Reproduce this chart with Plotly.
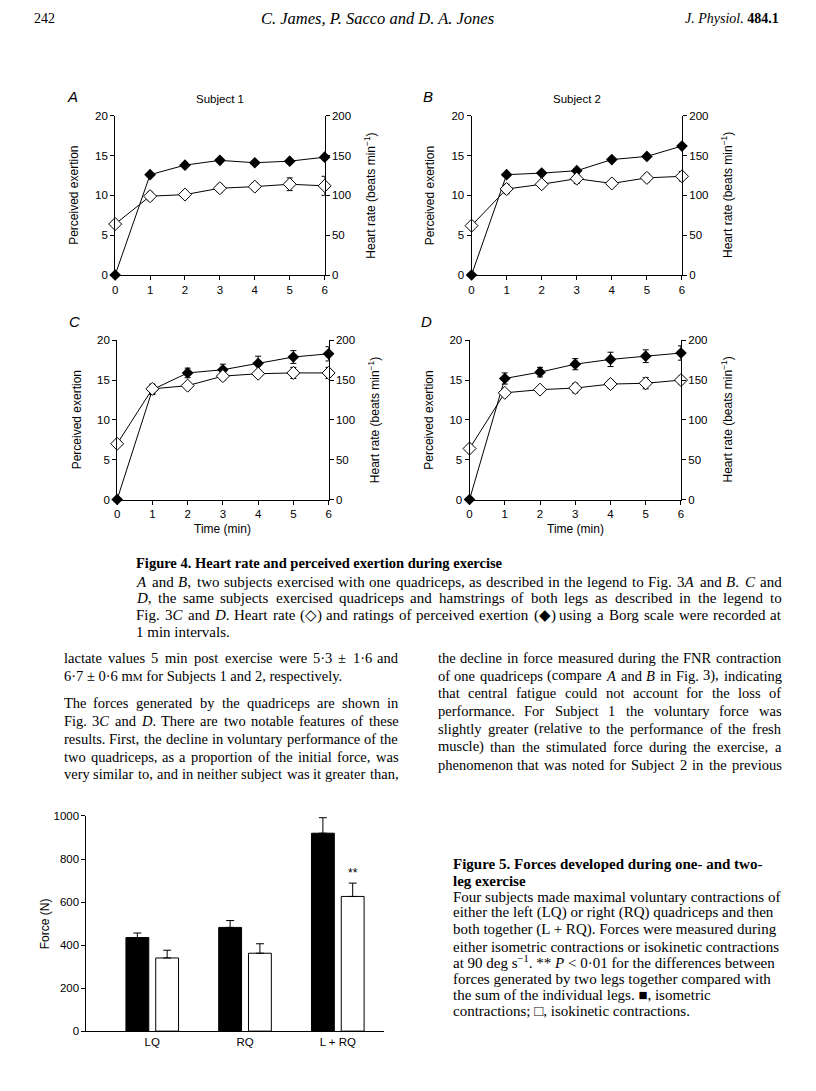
import re
import plotly.graph_objects as go

W, H = 816, 1091

# ---------------- data ----------------
minutes = [0, 1, 2, 3, 4, 5, 6]
x_ticks = [0, 1, 2, 3, 4, 5, 6]
rpe_ticks = [0, 5, 10, 15, 20]
hr_ticks = [0, 50, 100, 150, 200]

# Panel A (Subject 1, one quadriceps)
A_rpe = [0, 12.6, 13.8, 14.4, 14.1, 14.3, 14.8]
A_rpe_err = [0, 0, 0, 0, 0, 0, 0]
A_hr = [64, 99, 101, 109, 111, 114, 112]
A_hr_err = [0, 5, 2, 5, 5, 8, 12]
# Panel B (Subject 2, one quadriceps)
B_rpe = [0, 12.6, 12.8, 13.1, 14.5, 14.9, 16.2]
B_rpe_err = [0, 0, 0, 0, 0, 0, 0]
B_hr = [62, 108, 114, 121, 115, 122, 124]
B_hr_err = [0, 6, 2, 6, 2, 5, 6]
# Panel C (Subject 1, both legs)
C_rpe = [0, 13.8, 15.9, 16.3, 17.1, 17.9, 18.3]
C_rpe_err = [0, 0.6, 0.6, 0.7, 0.9, 0.8, 0.9]
C_hr = [70, 139, 143, 155, 158, 159, 159]
C_hr_err = [0, 6, 2, 5, 3, 7, 7]
# Panel D (Subject 2, both legs)
D_rpe = [0, 15.2, 16.0, 17.0, 17.6, 18.0, 18.4]
D_rpe_err = [0, 0.7, 0.6, 0.7, 0.9, 0.8, 0.9]
D_hr = [64, 134, 138, 140, 145, 146, 150]
D_hr_err = [0, 3, 2, 6, 5, 7, 5]

# Figure 5
bar_cats = ["LQ", "RQ", "L + RQ"]
bar_pos = [0, 1, 2]
isometric = [435, 482, 920]
isometric_err = [21, 32, 72]
isokinetic = [340, 362, 626]
isokinetic_err = [36, 44, 62]
force_ticks = [0, 200, 400, 600, 800, 1000]

# ---------------- helpers ----------------
def px_x(x):
    return x / W

def px_y(y):
    return 1 - y / H

SANS = "Liberation Sans"
SERIF = "Liberation Serif"

fig = go.Figure()
layout = {}
annotations = []

def ann(x, y, text, size=14, family=SERIF, xanchor="left", yanchor="middle", angle=0, color="black"):
    annotations.append(dict(
        x=px_x(x), y=px_y(y), xref="paper", yref="paper", text=text, showarrow=False,
        xanchor=xanchor, yanchor=yanchor, textangle=angle, borderpad=0,
        font=dict(family=family, size=size, color=color)))

# Times / Liberation Serif advance widths (per 1000 em)
TW = {' ': 250, '.': 250, ',': 250, ';': 278, ':': 278, '(': 333, ')': 333, '-': 333,
      '·': 250, '±': 564, '+': 564, '<': 564, '*': 500, '◇': 700, '◆': 700, '■': 600, '□': 600,
      'a': 444, 'b': 500, 'c': 444, 'd': 500, 'e': 444, 'f': 333, 'g': 500, 'h': 500, 'i': 278,
      'j': 278, 'k': 500, 'l': 278, 'm': 778, 'n': 500, 'o': 500, 'p': 500, 'q': 500, 'r': 333,
      's': 389, 't': 278, 'u': 500, 'v': 500, 'w': 722, 'x': 500, 'y': 500, 'z': 444,
      'A': 722, 'B': 667, 'C': 667, 'D': 722, 'E': 611, 'F': 556, 'G': 722, 'H': 722, 'I': 333,
      'J': 389, 'K': 722, 'L': 611, 'M': 889, 'N': 722, 'O': 722, 'P': 556, 'Q': 722, 'R': 667,
      'S': 556, 'T': 611, 'U': 722, 'V': 722, 'W': 944, 'X': 722, 'Y': 722, 'Z': 611}

def word_width(word, size):
    plain = re.sub(r"<[^>]+>", "", word)
    return sum(TW.get(ch, 500) for ch in plain) * size / 1000.0

def justified(x0, x1, y, text, size):
    words = text.split(" ")
    widths = [word_width(w, size) for w in words]
    gap = (x1 - x0 - sum(widths)) / max(len(words) - 1, 1)
    x = x0
    for w, ww in zip(words, widths):
        ann(x, y, w, size=size, xanchor="left")
        x += ww + gap

axis_common = dict(showline=True, linecolor="black", linewidth=1, ticks="outside",
                   ticklen=4, tickwidth=1, tickcolor="black", showgrid=False,
                   zeroline=False, tickfont=dict(family=SANS, size=11.5, color="black"))

panels = [
    ("A", "Subject 1", A_rpe, A_rpe_err, A_hr, A_hr_err, (113, 324), (111, 272), False),
    ("B", "Subject 2", B_rpe, B_rpe_err, B_hr, B_hr_err, (472, 684), (111, 272), False),
    ("C", None, C_rpe, C_rpe_err, C_hr, C_hr_err, (115, 328), (338, 499), True),
    ("D", None, D_rpe, D_rpe_err, D_hr, D_hr_err, (470, 683), (338, 499), True),
]

for i, (letter, subj, rpe, rpe_err, hr, hr_err, (x0, x1), (y0, y1), show_time) in enumerate(panels):
    xa = "x" if i == 0 else f"x{i+1}"
    ya_l = f"y{2*i+1}" if i > 0 else "y"
    ya_r = f"y{2*i+2}"
    xkey = "xaxis" if i == 0 else f"xaxis{i+1}"
    ykey_l = "yaxis" if i == 0 else f"yaxis{2*i+1}"
    ykey_r = f"yaxis{2*i+2}"

    layout[xkey] = dict(axis_common, domain=[px_x(x0), px_x(x1)], range=[0, 6],
                        tickvals=x_ticks, anchor=ya_l)
    layout[ykey_l] = dict(axis_common, domain=[px_y(y1), px_y(y0)], range=[0, 20],
                          tickvals=rpe_ticks, anchor=xa)
    layout[ykey_r] = dict(axis_common, range=[0, 200], tickvals=hr_ticks,
                          overlaying=ya_l, side="right", anchor=xa)

    # perceived exertion (filled diamonds)
    fig.add_trace(go.Scatter(
        x=minutes, y=rpe, xaxis=xa, yaxis=ya_l, mode="lines+markers", cliponaxis=False,
        line=dict(color="black", width=1),
        marker=dict(symbol="diamond", size=9, color="black"),
        error_y=dict(type="data", array=rpe_err, color="black", thickness=1, width=3),
        showlegend=False))
    # heart rate (open diamonds)
    fig.add_trace(go.Scatter(
        x=minutes, y=hr, xaxis=xa, yaxis=ya_r, mode="lines+markers", cliponaxis=False,
        line=dict(color="black", width=1),
        marker=dict(symbol="diamond", size=10, color="white", line=dict(color="black", width=1)),
        error_y=dict(type="data", array=hr_err, color="black", thickness=1, width=3),
        showlegend=False))

    # panel letter, subject title, axis titles
    ann(x0 - 50, y0 - 19, f"<i>{letter}</i>", size=15, family=SANS, xanchor="left")
    if subj:
        ann((x0 + x1) / 2, y0 - 17, subj, size=11.5, family=SANS, xanchor="center")
    ann(x0 - 41, (y0 + y1) / 2, "Perceived exertion", size=12, family=SANS,
        xanchor="center", angle=-90)
    ann(x1 + 46, (y0 + y1) / 2, "Heart rate (beats min<sup>−1</sup>)", size=12, family=SANS,
        xanchor="center", angle=-90)
    if show_time:
        ann((x0 + x1) / 2, y1 + 30, "Time (min)", size=12, family=SANS, xanchor="center")

# ---------------- Figure 5 bar chart ----------------
bx0, bx1, by0, by1 = 84, 384, 819, 1036.5
layout["xaxis5"] = dict(axis_common, domain=[px_x(bx0), px_x(bx1)], range=[-0.71, 2.5],
                        tickvals=bar_pos, ticktext=bar_cats, ticks="", anchor="y9")
layout["yaxis9"] = dict(axis_common, domain=[px_y(by1), px_y(by0)], range=[0, 1000],
                        tickvals=force_ticks, anchor="x5")

fig.add_trace(go.Bar(
    x=bar_pos, y=isometric, xaxis="x5", yaxis="y9", name="isometric",
    marker=dict(color="black", line=dict(color="black", width=1)),
    error_y=dict(type="data", symmetric=False, array=isometric_err, arrayminus=[0, 0, 0],
                 color="black", thickness=1, width=4),
    showlegend=False))
fig.add_trace(go.Bar(
    x=bar_pos, y=isokinetic, xaxis="x5", yaxis="y9", name="isokinetic",
    marker=dict(color="white", line=dict(color="black", width=1)),
    error_y=dict(type="data", symmetric=False, array=isokinetic_err, arrayminus=[0, 0, 0],
                 color="black", thickness=1, width=4),
    showlegend=False))

annotations.append(dict(x=2.16, y=735, xref="x5", yref="y9", text="**", showarrow=False,
                        font=dict(family=SANS, size=12, color="black")))
ann(42, (by0 + by1) / 2, "Force (N)", size=12, family=SANS, xanchor="center", angle=-90)

# ---------------- page text ----------------
ann(30, 13, "242", size=14)
ann(377, 13, "<i>C. James, P. Sacco and D. A. Jones</i>", size=16.5, xanchor="center")
ann(783, 13, "<i>J. Physiol.</i> <b>484.1</b>", size=14, xanchor="right")

# Figure 4 legend (justified)
ann(133, 563, "<b>Figure 4. Heart rate and perceived exertion during exercise</b>", size=14.5)
CAP = 15
justified(133, 783, 582, "<i>A</i> and <i>B</i>, two subjects exercised with one quadriceps, as described in the legend to Fig. 3<i>A</i> and <i>B</i>. <i>C</i> and", CAP)
justified(133, 783, 599, "<i>D</i>, the same subjects exercised quadriceps and hamstrings of both legs as described in the legend to", CAP)
justified(133, 783, 616, "Fig. 3<i>C</i> and <i>D</i>. Heart rate (◇) and ratings of perceived exertion (◆) using a Borg scale were recorded at", CAP)
ann(133, 633, "1 min intervals.", size=CAP)

# body text, two justified columns
BODY = 14.5
justified(60, 397, 659, "lactate values 5 min post exercise were 5·3 ± 1·6 and", BODY)
ann(60, 677, "6·7 ± 0·6 m<span style='font-size:11px'>M</span> for Subjects 1 and 2, respectively.", size=BODY)
left_par = [
    (705, "The forces generated by the quadriceps are shown in"),
    (723, "Fig. 3<i>C</i> and <i>D</i>. There are two notable features of these"),
    (741, "results. First, the decline in voluntary performance of the"),
    (759, "two quadriceps, as a proportion of the initial force, was"),
    (777, "very similar to, and in neither subject was it greater than,"),
]
for y, t in left_par:
    justified(60, 397, y, t, BODY)

right_col = [
    (659, "the decline in force measured during the FNR contraction"),
    (677, "of one quadriceps (compare <i>A</i> and <i>B</i> in Fig. 3), indicating"),
    (695, "that central fatigue could not account for the loss of"),
    (713, "performance. For Subject 1 the voluntary force was"),
    (731, "slightly greater (relative to the performance of the fresh"),
    (749, "muscle) than the stimulated force during the exercise, a"),
    (767, "phenomenon that was noted for Subject 2 in the previous"),
]
for y, t in right_col:
    justified(437, 783, y, t, BODY)

# Figure 5 legend (ragged right)
cap5_title = [
    (868, "<b>Figure 5. Forces developed during one- and two-</b>"),
    (885, "<b>leg exercise</b>"),
]
for y, t in cap5_title:
    ann(452, y, t, size=15)
cap5 = [
    (901, "Four subjects made maximal voluntary contractions of"),
    (917, "either the left (LQ) or right (RQ) quadriceps and then"),
    (934, "both together (L + RQ). Forces were measured during"),
    (951, "either isometric contractions or isokinetic contractions"),
    (967, "at 90 deg s<sup>−1</sup>. ** <i>P</i> < 0·01 for the differences between"),
    (984, "forces generated by two legs together compared with"),
    (1000, "the sum of the individual legs. ■, isometric"),
    (1016, "contractions; □, isokinetic contractions."),
]
for y, t in cap5:
    ann(452, y, t, size=15)

fig.update_layout(
    width=W, height=H, margin=dict(l=0, r=0, t=0, b=0),
    paper_bgcolor="white", plot_bgcolor="white",
    barmode="group", bargap=0.358, bargroupgap=0.233,
    annotations=annotations, showlegend=False,
    **layout)

fig.write_html("out.html", config={"displayModeBar": False},
               post_script="document.body.style.margin='0px'; document.body.style.overflow='hidden';")
